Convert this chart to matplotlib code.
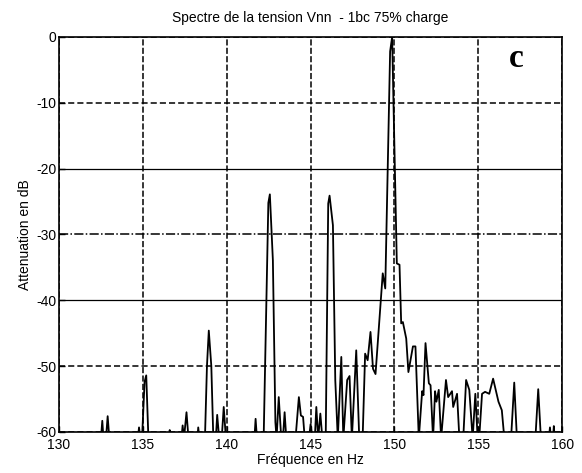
import matplotlib
matplotlib.use("Agg")
import matplotlib.pyplot as plt

# Spectrum data (dB); values of -61 lie below the axis floor
freq = [130.0, 132.5, 132.58, 132.65, 132.8, 132.9, 133.0,
        134.7, 134.77, 134.85, 134.95, 135.1, 135.2, 135.33,
        136.55, 136.6, 136.65,
        137.3, 137.37, 137.45, 137.6, 137.72,
        138.25, 138.3, 138.37,
        138.7, 138.82, 138.93, 139.08, 139.2,
        139.35, 139.43, 139.55, 139.7, 139.82, 139.95,
        141.65, 141.72, 141.8,
        142.2, 142.48, 142.57, 142.75, 142.9, 142.97,
        143.1, 143.25, 143.35, 143.45, 143.55,
        144.1, 144.3, 144.42, 144.55, 144.65,
        144.9, 145.0, 145.1, 145.25, 145.34, 145.45, 145.58, 145.7,
        145.9, 146.05, 146.13, 146.33, 146.47, 146.62, 146.83, 146.95,
        147.18, 147.32, 147.46, 147.72, 147.9, 148.1, 148.25, 148.4,
        148.57, 148.72, 148.87, 149.3, 149.45, 149.74, 149.86, 150.14,
        150.3, 150.4, 150.5, 150.7, 150.83, 151.1, 151.25, 151.45,
        151.65, 151.73, 151.85, 152.05, 152.15, 152.3, 152.42, 152.5,
        152.64, 152.78, 153.07, 153.2, 153.43, 153.5, 153.73, 153.87,
        154.1, 154.27, 154.46, 154.66, 154.82, 154.96, 155.05, 155.22,
        155.4, 155.65, 155.88, 156.2, 156.4, 156.55, 156.95, 157.14,
        157.3, 158.4, 158.57, 158.73, 159.2, 159.27, 159.33, 159.45,
        159.5, 159.55, 160.0]
level = [-61, -61, -58.3, -61, -61, -57.6, -61,
         -61, -59.3, -61, -61, -52.4, -51.4, -61,
         -61, -59.7, -61,
         -61, -59.0, -61, -57.0, -61,
         -61, -59.3, -61,
         -61, -50.0, -44.6, -50.0, -61,
         -61, -57.4, -61, -61, -56.2, -61,
         -61, -58.0, -61,
         -61, -25.2, -23.9, -33.9, -58.5, -61,
         -54.7, -61, -61, -57.0, -61,
         -61, -54.7, -57.5, -57.7, -61,
         -61, -58.8, -61, -61, -56.2, -61, -57.2, -61,
         -61, -25.3, -24.1, -28.6, -52.1, -61, -48.6, -61,
         -52.1, -51.5, -61, -47.6, -61, -61, -48.1, -49.1,
         -44.8, -50.4, -51.2, -35.9, -38.2, -2.2, 0.0, -34.4,
         -34.6, -43.5, -43.3, -45.8, -50.9, -47.0, -47.0, -61,
         -53.8, -54.4, -46.5, -52.6, -52.9, -61, -53.8, -55.4,
         -53.6, -61, -52.1, -54.7, -53.8, -56.2, -54.2, -61,
         -61, -52.1, -53.6, -61, -54.2, -61, -61, -54.2,
         -53.9, -54.2, -51.9, -55.4, -56.7, -61, -61, -52.5,
         -61, -61, -53.5, -61, -61, -59.3, -61, -61,
         -59.1, -61, -61]

xticks = [130, 135, 140, 145, 150, 155, 160]
yticks = [0, -10, -20, -30, -40, -50, -60]

plt.rcParams['font.family'] = ['Liberation Sans', 'DejaVu Sans']

fig = plt.figure(figsize=(5.82, 4.73), dpi=100)
ax = fig.add_axes([0.1014, 0.0867, 0.8646, 0.8351])

ax.plot(freq, level, color='black', linewidth=1.3, clip_on=True)

ax.set_xlim(130, 160)
ax.set_ylim(-60, 0)
ax.set_xticks(xticks)
ax.set_yticks(yticks)
ax.set_xticklabels([str(t) for t in xticks], fontsize=10)
ax.set_yticklabels([str(t) for t in yticks], fontsize=10)
ax.tick_params(direction='in', length=4, width=1)
ax.tick_params(axis='x', pad=4)
ax.tick_params(axis='y', pad=2)

ax.grid(True, color='black', linewidth=1.0, linestyle=(0, (4, 2)))
# horizontal grid styles like the reference
ystyles = {0: (0, (4, 2)), -10: (0, (4, 2)), -20: '-', -30: (0, (6, 1.5, 1, 1.5)),
           -40: '-', -50: (0, (4, 2)), -60: (0, (4, 2))}
for gl, t in zip(ax.get_ygridlines(), yticks):
    gl.set_linestyle(ystyles[t])
    gl.set_linewidth(1.1 if ystyles[t] != '-' else 0.9)
for gl in ax.get_xgridlines():
    gl.set_linestyle((0, (4, 1.5)))
    gl.set_linewidth(1.1)

for s in ax.spines.values():
    s.set_linewidth(1.2)
    s.set_color('black')

ax.set_title('Spectre de la tension Vnn  - 1bc 75% charge', fontsize=10, pad=11)
ax.set_xlabel('Fréquence en Hz', fontsize=10, labelpad=1)
ax.set_ylabel('Attenuation en dB', fontsize=10, labelpad=3)

ax.text(157.25, -3.2, 'c', family=['Liberation Serif', 'DejaVu Serif'],
        fontweight='bold', fontsize=24, ha='center', va='center')

fig.savefig('out.png', dpi=100)
